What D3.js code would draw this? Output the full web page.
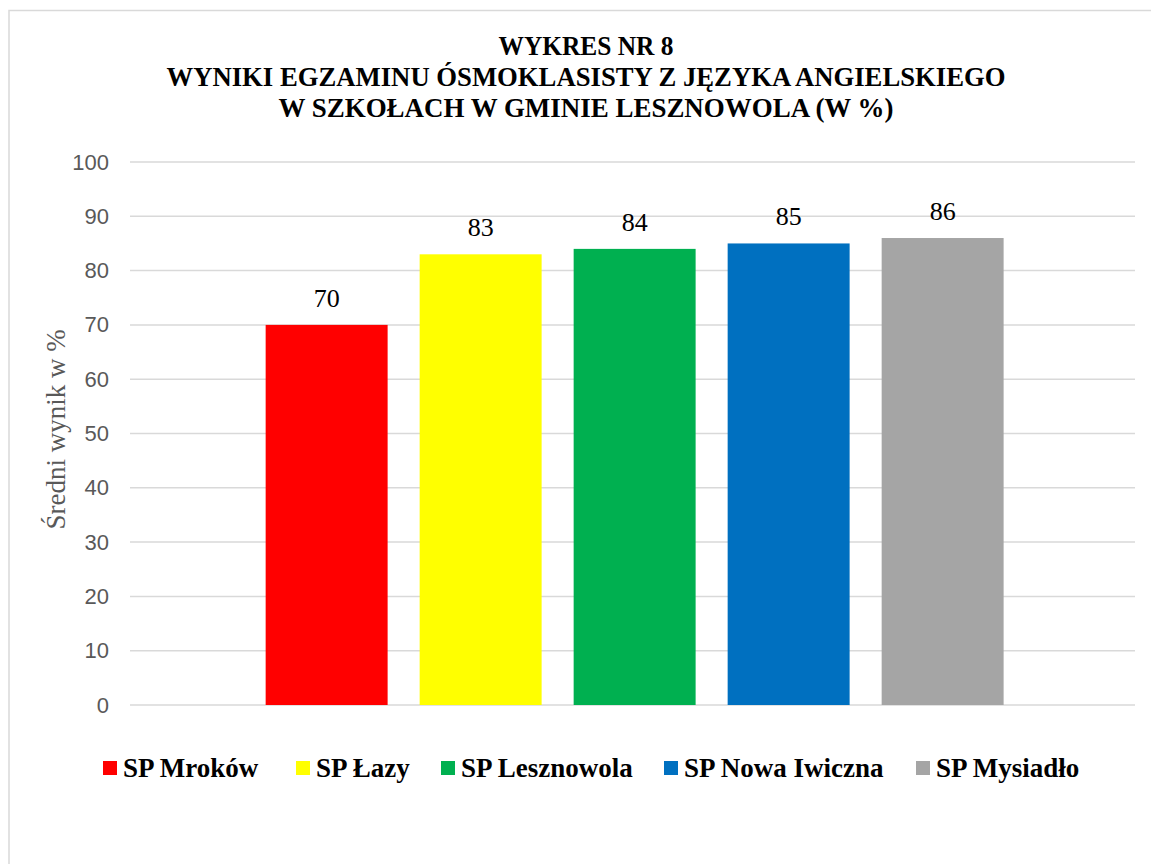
<!DOCTYPE html>
<html>
<head>
<meta charset="utf-8">
<script src="https://cdn.jsdelivr.net/npm/d3@7"></script>
<style>
    body { margin: 0; background: #fff; }
</style>
</head>
<body>
<div id="chart"></div>
<script>
const schools = ["SP Mroków", "SP Łazy", "SP Lesznowola", "SP Nowa Iwiczna", "SP Mysiadło"];
const results = [70, 83, 84, 85, 86];
const colors = ["#ff0000", "#ffff00", "#00b050", "#0070c0", "#a5a5a5"];
const yTicks = [0, 10, 20, 30, 40, 50, 60, 70, 80, 90, 100];
const titleLines = [
    "WYKRES NR 8",
    "WYNIKI EGZAMINU ÓSMOKLASISTY Z JĘZYKA ANGIELSKIEGO",
    "W SZKOŁACH W GMINIE LESZNOWOLA (W %)"
];
const yLabel = "Średni wynik w %";

const width = 1151, height = 864;
const margin = { top: 162, right: 16, bottom: 159, left: 130 };
const innerW = width - margin.left - margin.right,
    innerH = height - margin.top - margin.bottom;

const serif = "'Liberation Serif', 'Times New Roman', serif";

const root = d3.select("#chart")
    .append("svg")
    .attr("width", width)
    .attr("height", height);

// outer frame
root.append("rect")
    .attr("x", 9)
    .attr("y", 10.5)
    .attr("width", width + 20)
    .attr("height", height + 20)
    .attr("fill", "none")
    .attr("stroke", "#d9d9d9")
    .attr("stroke-width", 1.5);

const titleWidths = [175, 839, 615];
root.selectAll(".title")
    .data(titleLines)
    .join("text")
    .attr("class", "title")
    .attr("x", 586)
    .attr("y", (d, i) => 55 + i * 31)
    .attr("text-anchor", "middle")
    .attr("textLength", (d, i) => titleWidths[i])
    .attr("lengthAdjust", "spacingAndGlyphs")
    .style("font-family", serif)
    .style("font-weight", "bold")
    .style("font-size", "27px")
    .text(d => d);

const svg = root.append("g")
    .attr("transform", `translate(${margin.left},${margin.top})`);

const y = d3.scaleLinear()
    .domain([0, 100])
    .range([innerH, 0]);

const x = d3.scaleBand()
    .domain(schools)
    .range([0, innerW])
    .paddingInner(0.208)
    .paddingOuter(0.867)
    .align(0.508);

// gridlines
svg.append("g")
    .selectAll("line")
    .data(yTicks)
    .join("line")
    .attr("x1", 0)
    .attr("x2", innerW)
    .attr("y1", d => y(d))
    .attr("y2", d => y(d))
    .attr("stroke", "#d9d9d9")
    .attr("stroke-width", 1.5);

const yAxis = svg.append("g")
    .call(d3.axisLeft(y).tickValues(yTicks).tickSize(0).tickPadding(21));
yAxis.select(".domain").remove();
yAxis.selectAll("text")
    .style("font-family", "'Liberation Sans', Arial, sans-serif")
    .style("font-size", "22px")
    .attr("fill", "#595959");

svg.append("text")
    .attr("transform", "rotate(-90)")
    .attr("x", -innerH / 2 + 4)
    .attr("y", -65)
    .attr("text-anchor", "middle")
    .style("font-family", serif)
    .style("font-size", "27px")
    .attr("fill", "#595959")
    .text(yLabel);

svg.selectAll(".bar")
    .data(schools)
    .join("rect")
    .attr("class", "bar")
    .attr("x", d => x(d))
    .attr("y", (d, i) => y(results[i]))
    .attr("width", x.bandwidth())
    .attr("height", (d, i) => innerH - y(results[i]))
    .attr("fill", (d, i) => colors[i]);

svg.selectAll(".val")
    .data(schools)
    .join("text")
    .attr("class", "val")
    .attr("x", d => x(d) + x.bandwidth() / 2)
    .attr("y", (d, i) => y(results[i]) - 18)
    .attr("text-anchor", "middle")
    .style("font-family", serif)
    .style("font-size", "26px")
    .attr("fill", "#000")
    .text((d, i) => results[i]);

// legend
const legendX = [103, 296, 441, 664, 916];
const legend = root.selectAll(".legend")
    .data(schools)
    .join("g")
    .attr("class", "legend")
    .attr("transform", (d, i) => `translate(${legendX[i]},768)`);

legend.append("rect")
    .attr("x", 0)
    .attr("y", -7)
    .attr("width", 14)
    .attr("height", 14)
    .attr("fill", (d, i) => colors[i]);

legend.append("text")
    .attr("x", 20)
    .attr("y", 9)
    .style("font-family", serif)
    .style("font-weight", "bold")
    .style("font-size", "27px")
    .text(d => d);
</script>
</body>
</html>
